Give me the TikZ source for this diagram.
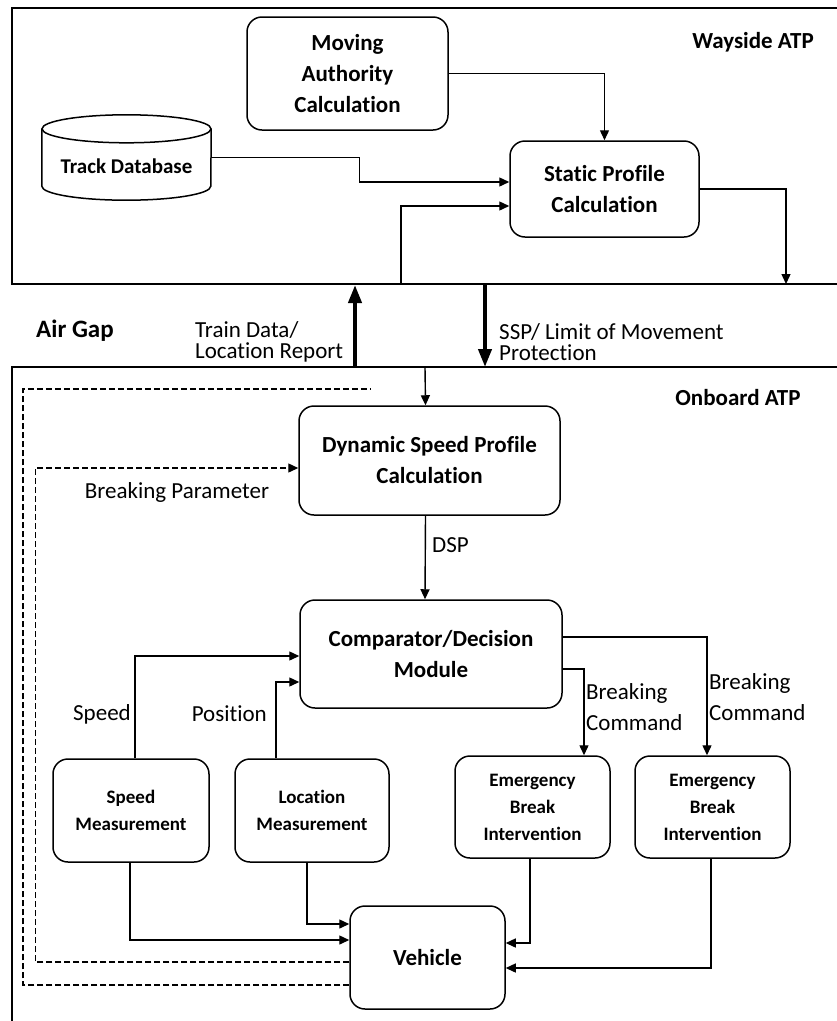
\documentclass[tikz,border=0pt]{standalone}
\usepackage{fontspec}
\setmainfont{Carlito}[Ligatures=NoCommon]
\usetikzlibrary{arrows.meta}

\begin{document}
\begin{tikzpicture}[x=1pt,y=-1pt]
\tikzstyle{every node}+=[inner sep=0pt, align=center]
\tikzstyle{blk}=[draw, line width=1.5pt, rounded corners=15pt, font=\bfseries\fontsize{23}{31}\selectfont]
\tikzstyle{sblk}=[blk, font=\bfseries\fontsize{19}{27}\selectfont]
\tikzstyle{lbl}=[font=\fontsize{23}{31}\selectfont]
\tikzstyle{tight}=[font=\fontsize{23}{21}\selectfont, align=left]
\tikzstyle{hdr}=[font=\bfseries\fontsize{23}{27}\selectfont]
\tikzstyle{ln}=[line width=1.4pt]
\tikzstyle{arr}=[ln, -{Triangle[length=10pt,width=9pt]}]
\tikzstyle{big}=[line width=4pt, -{Triangle[length=18pt,width=13pt]}]
\tikzstyle{dsh}=[ln, dash pattern=on 6pt off 3pt]
\useasboundingbox (0,0) rectangle (837,1021);
\draw [line width=1.6pt] (837,8) -- (12,8) -- (12,284) -- (837,284);
\draw [line width=1.6pt] (837,367) -- (12,367) -- (12,1021);
\node [hdr] (wayside) at (753,42) {Wayside ATP};
\node [hdr] (onboard) at (738,398) {Onboard ATP};
\node [font=\bfseries\fontsize{25}{27}\selectfont] (airgap) at (75,331) {Air Gap};
\node [blk, minimum width=201, minimum height=113] (ma) at (347.5,73.5) {Moving\\Authority\\Calculation};
\node [minimum width=169, minimum height=57] (db) at (126.5,157.5) {};
\draw [line width=1.5pt] (db.north west) -- (db.south west) arc [start angle=180, end angle=360, x radius=84.5pt, y radius=14pt] -- (db.north east);
\draw [line width=1.5pt] (db.north) ellipse [x radius=84.5pt, y radius=14pt];
\node [font=\bfseries\fontsize{21}{27}\selectfont] (dbtxt) at (126.5,166) {Track Database};
\node [blk, minimum width=189, minimum height=96] (spc) at (604.5,189) {Static Profile\\Calculation};
\node [blk, minimum width=261, minimum height=109] (dsp) at (429.5,460.5) {Dynamic Speed Profile\\Calculation};
\node [blk, minimum width=262, minimum height=108] (cmp) at (431,654) {Comparator/Decision\\Module};
\node [sblk, minimum width=156, minimum height=103] (sm) at (131,810.5) {Speed\\Measurement};
\node [sblk, minimum width=154, minimum height=103] (lm) at (312,810.5) {Location\\Measurement};
\node [sblk, minimum width=155, minimum height=102] (eb1) at (532.5,807) {Emergency\\Break\\Intervention};
\node [sblk, minimum width=155, minimum height=102] (eb2) at (712.5,807) {Emergency\\Break\\Intervention};
\node [blk, minimum width=155, minimum height=103] (veh) at (427.5,957.5) {Vehicle};
\coordinate (up) at (401,284);
\coordinate (out) at (786,284);
\coordinate (tx1) at (355,367);
\coordinate (tx2) at (355,285);
\coordinate (rx1) at (485,285);
\coordinate (rx2) at (485,367);
\coordinate (in) at (425,367);
\coordinate (fe) at (371,389);
\draw [arr] (ma.east) -| (spc.north);
\draw [arr] (db.east) -| ([xshift=-150pt,yshift=7pt]spc.west) -- ([yshift=7pt]spc.west);
\draw [arr] (up) |- ([yshift=-17pt]spc.west);
\draw [arr] (spc.east) -| (out);
\draw [big] (tx1) -- (tx2);
\draw [big] (rx1) -- (rx2);
\node [tight, anchor=west] (train) at (195,342) {Train Data/\\Location Report};
\node [tight, anchor=west] (ssp) at (499,342) {SSP/ Limit of Movement\\Protection};
\draw [arr] (in) -- ([xshift=-4pt]dsp.north);
\draw [arr] ([xshift=-4pt]dsp.south) -- ([xshift=-6pt]cmp.north);
\node [lbl, anchor=west] (dsplbl) at (432,545) {DSP};
\draw [arr] ([xshift=4pt]sm.north) |- ([yshift=-2pt]cmp.west);
\draw [arr] ([xshift=-36pt]lm.north) |- ([yshift=-28pt]cmp.west);
\node [lbl, anchor=east] (speed) at (131,714) {Speed};
\node [lbl, anchor=east] (pos) at (267,714) {Position};
\draw [arr] ([yshift=-15pt]cmp.east) -| ([xshift=51.5pt]eb1.north);
\draw [arr] ([yshift=17pt]cmp.east) -| ([xshift=-5.5pt]eb2.north);
\node [lbl, anchor=west, align=left] (bc1) at (586,707) {Breaking\\Command};
\node [lbl, anchor=west, align=left] (bc2) at (709,697) {Breaking\\Command};
\draw [arr] ([xshift=-1pt]sm.south) |- ([yshift=17.5pt]veh.west);
\draw [arr] ([xshift=-5pt]lm.south) |- ([yshift=33.5pt]veh.west);
\draw [arr] ([xshift=-2.5pt]eb1.south) |- ([yshift=14.5pt]veh.east);
\draw [arr] ([xshift=-1.5pt]eb2.south) |- ([yshift=-10.5pt]veh.east);
\draw [dsh, -{Triangle[length=10pt,width=9pt]}] ([yshift=-4.5pt]veh.west) -| ([xshift=-263pt,yshift=-7.5pt]dsp.west) -- ([yshift=-7.5pt]dsp.west);
\draw [dsh] ([yshift=-27.5pt]veh.west) -- (23,985) -- (23,389) -- (fe);
\node [lbl] (bp) at (177,492) {Breaking Parameter};
\end{tikzpicture}
\end{document}
